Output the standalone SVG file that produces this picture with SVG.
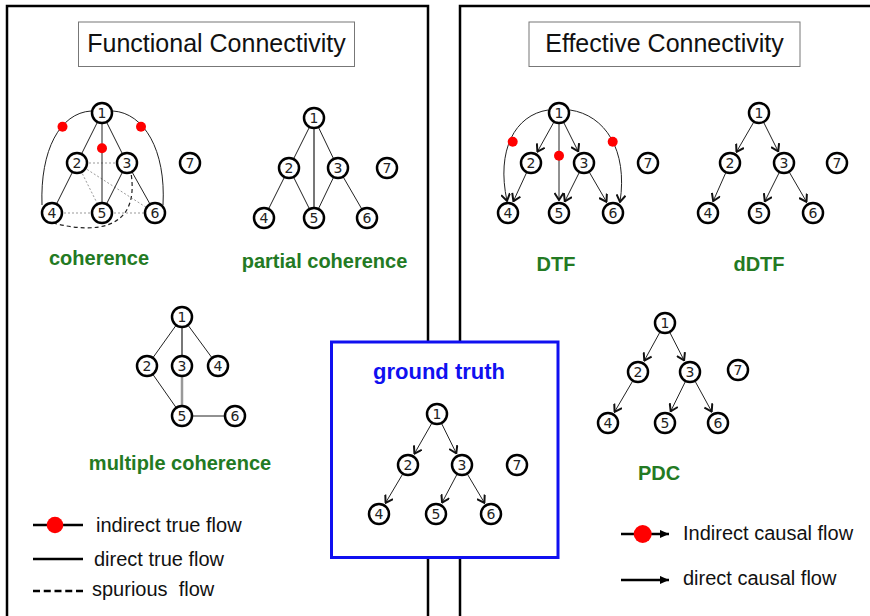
<svg xmlns="http://www.w3.org/2000/svg" width="870" height="616" viewBox="0 0 870 616">
  <defs>
    <style>
      .panel{fill:none;stroke:#000;stroke-width:2.5}
      .tbox{fill:#fff;stroke:#777;stroke-width:1}
      .ttl{font-family:"Liberation Sans",Arial,sans-serif;font-size:25px;text-anchor:middle;fill:#111}
      .node circle{fill:#fff;stroke:#000;stroke-width:2.5}
      .node text{font-family:"DejaVu Sans",Verdana,sans-serif;font-size:14px;text-anchor:middle;fill:#222}
      .e{stroke:#222;stroke-width:1;fill:none}
      .eg{stroke:#777;stroke-width:2;fill:none}
      .eg2{stroke:#999;stroke-width:2.5;fill:none}
      .dot{stroke:#999;stroke-width:1;stroke-dasharray:2 2;fill:none}
      .dash{stroke:#222;stroke-width:1.2;stroke-dasharray:4 3;fill:none}
      .arr{stroke:#222;stroke-width:1;fill:none;marker-end:url(#chev)}
      .red{fill:#f00}
      .lbl{font-family:"Liberation Sans",Arial,sans-serif;font-weight:bold;font-size:20px;fill:#237a23;text-anchor:middle}
      .leg{font-family:"Liberation Sans",Arial,sans-serif;font-size:20px;fill:#111}
      .legline{stroke:#000;stroke-width:2.5;fill:none}
    </style>
    <marker id="chev" viewBox="0 0 10 10" markerUnits="userSpaceOnUse" markerWidth="10" markerHeight="10" refX="9" refY="5" orient="auto">
      <path d="M2,0.5 L9,5 L2,9.5" fill="none" stroke="#111" stroke-width="2"/>
    </marker>
    <marker id="tri" viewBox="0 0 10 10" markerUnits="userSpaceOnUse" markerWidth="10" markerHeight="9" refX="10" refY="5" orient="auto">
      <path d="M0,0.5 L10,5 L0,9.5 Z" fill="#000"/>
    </marker>
  </defs>

  <rect width="870" height="616" fill="#fff"/>

  <!-- panels -->
  <g id="panels">
    <path class="panel" d="M7,625 V6 H428 V625"/>
    <path class="panel" d="M460,625 V6 H880"/>
    <rect class="tbox" x="78.5" y="22" width="276" height="44.5"/>
    <text class="ttl" x="216.5" y="52">Functional Connectivity</text>
    <rect class="tbox" x="529" y="22" width="271" height="44.5"/>
    <text class="ttl" x="664.5" y="52">Effective Connectivity</text>
    <rect x="331.5" y="342" width="226.5" height="215.5" fill="#fff" stroke="#1010f0" stroke-width="3"/>
  </g>

  <!-- connectors -->
  <g id="connectors">
    <!-- coherence -->
    <line class="dot" x1="77" y1="163" x2="127" y2="163"/>
    <line class="dot" x1="77" y1="163" x2="102" y2="213"/>
    <line class="dot" x1="77" y1="163" x2="155" y2="213"/>
    <line class="dot" x1="52" y1="213" x2="102" y2="213"/>
    <line class="dot" x1="102" y1="213" x2="155" y2="213"/>
    <path class="dash" d="M53,223 C95,234 140,230 131,173"/>
    <line class="e" x1="102" y1="113" x2="77" y2="163"/>
    <line class="e" x1="102" y1="113" x2="127" y2="163"/>
    <line class="e" x1="102" y1="113" x2="102" y2="213"/>
    <line class="e" x1="77" y1="163" x2="52" y2="213"/>
    <line class="e" x1="127" y1="163" x2="102" y2="213"/>
    <line class="e" x1="127" y1="163" x2="155" y2="213"/>
    <path class="e" d="M91,111 C60,113 40,150 42,205"/>
    <path class="e" d="M113,111 C144,113 166,150 163,205"/>
    <circle class="red" cx="62.5" cy="126.7" r="5"/>
    <circle class="red" cx="141" cy="126.7" r="5"/>
    <circle class="red" cx="102" cy="148.3" r="5"/>

    <!-- partial coherence -->
    <line class="e" x1="314" y1="118" x2="289" y2="168"/>
    <line class="e" x1="314" y1="118" x2="338" y2="168"/>
    <line class="eg" x1="314" y1="118" x2="314" y2="218"/>
    <line class="e" x1="289" y1="168" x2="264" y2="218"/>
    <line class="e" x1="289" y1="168" x2="314" y2="218" stroke-width="0.8"/>
    <line class="e" x1="338" y1="168" x2="314" y2="218"/>
    <line class="e" x1="338" y1="168" x2="367" y2="218"/>

    <!-- multiple coherence -->
    <line class="e" x1="182" y1="317" x2="147" y2="366"/>
    <line class="eg" x1="182" y1="317" x2="182" y2="366"/>
    <line class="e" x1="182" y1="317" x2="218" y2="366"/>
    <line class="e" x1="147" y1="366" x2="182" y2="416"/>
    <line class="eg2" x1="182" y1="366" x2="182" y2="416"/>
    <line class="e" x1="182" y1="416" x2="235" y2="416"/>

    <!-- DTF -->
    <line class="arr" x1="553.6" y1="122.6" x2="537.4" y2="151.7"/>
    <line class="arr" x1="563.9" y1="122.8" x2="578.2" y2="151.4"/>
    <line class="arr" x1="559" y1="124" x2="559" y2="200"/>
    <line class="arr" x1="526.4" y1="173" x2="513.4" y2="201.2"/>
    <line class="arr" x1="579.1" y1="172.8" x2="564.8" y2="201.4"/>
    <line class="arr" x1="589.5" y1="172.5" x2="606.5" y2="201.8"/>
    <path class="arr" d="M548,110 C515,115 496,150 507,201"/>
    <path class="arr" d="M570,110 C605,115 628,150 620,202"/>
    <circle class="red" cx="512.7" cy="141.7" r="5"/>
    <circle class="red" cx="612.7" cy="141.7" r="5"/>
    <circle class="red" cx="559" cy="155.7" r="5"/>

    <!-- dDTF -->
    <line class="arr" x1="753.5" y1="122.5" x2="736.5" y2="151.8"/>
    <line class="arr" x1="763.9" y1="122.8" x2="778.2" y2="151.4"/>
    <line class="arr" x1="725.6" y1="173.1" x2="713.2" y2="201.1"/>
    <line class="arr" x1="779.1" y1="172.8" x2="764.8" y2="201.4"/>
    <line class="arr" x1="789.5" y1="172.5" x2="806.5" y2="201.8"/>

    <!-- ground truth -->
    <line class="arr" x1="431.6" y1="423.6" x2="414.4" y2="453.7"/>
    <line class="arr" x1="441.8" y1="423.9" x2="456.3" y2="453.3"/>
    <line class="arr" x1="402.4" y1="474.5" x2="385.6" y2="502.8"/>
    <line class="arr" x1="456.8" y1="474.7" x2="442.1" y2="502.5"/>
    <line class="arr" x1="467.6" y1="474.5" x2="484.4" y2="502.8"/>

    <!-- PDC -->
    <line class="arr" x1="659.7" y1="332.6" x2="644.3" y2="360.6"/>
    <line class="arr" x1="670" y1="332.8" x2="684.1" y2="360.4"/>
    <line class="arr" x1="632.4" y1="381.5" x2="614.6" y2="411.8"/>
    <line class="arr" x1="685.2" y1="381.9" x2="670.7" y2="411.3"/>
    <line class="arr" x1="695.3" y1="381.6" x2="711.7" y2="411.6"/>
  </g>

  <!-- coherence nodes -->
  <g id="coh-1" class="node"><circle cx="102" cy="113" r="10"/><text x="102" y="118">1</text></g>
  <g id="coh-2" class="node"><circle cx="77" cy="163" r="10"/><text x="77" y="168">2</text></g>
  <g id="coh-3" class="node"><circle cx="127" cy="163" r="10"/><text x="127" y="168">3</text></g>
  <g id="coh-4" class="node"><circle cx="52" cy="213" r="10"/><text x="52" y="218">4</text></g>
  <g id="coh-5" class="node"><circle cx="102" cy="213" r="10"/><text x="102" y="218">5</text></g>
  <g id="coh-6" class="node"><circle cx="155" cy="213" r="10"/><text x="155" y="218">6</text></g>
  <g id="coh-7" class="node"><circle cx="190" cy="163" r="10"/><text x="190" y="168">7</text></g>
  <text class="lbl" x="99" y="265">coherence</text>

  <!-- partial coherence nodes -->
  <g id="pc-1" class="node"><circle cx="314" cy="118" r="10"/><text x="314" y="123">1</text></g>
  <g id="pc-2" class="node"><circle cx="289" cy="168" r="10"/><text x="289" y="173">2</text></g>
  <g id="pc-3" class="node"><circle cx="338" cy="168" r="10"/><text x="338" y="173">3</text></g>
  <g id="pc-4" class="node"><circle cx="264" cy="218" r="10"/><text x="264" y="223">4</text></g>
  <g id="pc-5" class="node"><circle cx="314" cy="218" r="10"/><text x="314" y="223">5</text></g>
  <g id="pc-6" class="node"><circle cx="367" cy="218" r="10"/><text x="367" y="223">6</text></g>
  <g id="pc-7" class="node"><circle cx="387" cy="168" r="10"/><text x="387" y="173">7</text></g>
  <text class="lbl" x="324.5" y="268">partial coherence</text>

  <!-- multiple coherence nodes -->
  <g id="mc-1" class="node"><circle cx="182" cy="317" r="10"/><text x="182" y="322">1</text></g>
  <g id="mc-2" class="node"><circle cx="147" cy="366" r="10"/><text x="147" y="371">2</text></g>
  <g id="mc-3" class="node"><circle cx="182" cy="366" r="10"/><text x="182" y="371">3</text></g>
  <g id="mc-4" class="node"><circle cx="218" cy="366" r="10"/><text x="218" y="371">4</text></g>
  <g id="mc-5" class="node"><circle cx="182" cy="416" r="10"/><text x="182" y="421">5</text></g>
  <g id="mc-6" class="node"><circle cx="235" cy="416" r="10"/><text x="235" y="421">6</text></g>
  <text class="lbl" x="180" y="470">multiple coherence</text>

  <!-- DTF nodes -->
  <g id="dtf-1" class="node"><circle cx="559" cy="113" r="10"/><text x="559" y="118">1</text></g>
  <g id="dtf-2" class="node"><circle cx="531" cy="163" r="10"/><text x="531" y="168">2</text></g>
  <g id="dtf-3" class="node"><circle cx="584" cy="163" r="10"/><text x="584" y="168">3</text></g>
  <g id="dtf-4" class="node"><circle cx="508" cy="213" r="10"/><text x="508" y="218">4</text></g>
  <g id="dtf-5" class="node"><circle cx="559" cy="213" r="10"/><text x="559" y="218">5</text></g>
  <g id="dtf-6" class="node"><circle cx="613" cy="213" r="10"/><text x="613" y="218">6</text></g>
  <g id="dtf-7" class="node"><circle cx="648" cy="163" r="10"/><text x="648" y="168">7</text></g>
  <text class="lbl" x="556" y="271">DTF</text>

  <!-- dDTF nodes -->
  <g id="ddtf-1" class="node"><circle cx="759" cy="113" r="10"/><text x="759" y="118">1</text></g>
  <g id="ddtf-2" class="node"><circle cx="730" cy="163" r="10"/><text x="730" y="168">2</text></g>
  <g id="ddtf-3" class="node"><circle cx="784" cy="163" r="10"/><text x="784" y="168">3</text></g>
  <g id="ddtf-4" class="node"><circle cx="708" cy="213" r="10"/><text x="708" y="218">4</text></g>
  <g id="ddtf-5" class="node"><circle cx="759" cy="213" r="10"/><text x="759" y="218">5</text></g>
  <g id="ddtf-6" class="node"><circle cx="813" cy="213" r="10"/><text x="813" y="218">6</text></g>
  <g id="ddtf-7" class="node"><circle cx="837" cy="163" r="10"/><text x="837" y="168">7</text></g>
  <text class="lbl" x="759" y="271">dDTF</text>

  <!-- ground truth nodes -->
  <text x="439" y="379" font-family="Liberation Sans, Arial, sans-serif" font-weight="bold" font-size="22" fill="#1010f0" text-anchor="middle">ground truth</text>
  <g id="gt-1" class="node"><circle cx="437" cy="414" r="10"/><text x="437" y="419">1</text></g>
  <g id="gt-2" class="node"><circle cx="408" cy="465" r="10"/><text x="408" y="470">2</text></g>
  <g id="gt-3" class="node"><circle cx="462" cy="465" r="10"/><text x="462" y="470">3</text></g>
  <g id="gt-4" class="node"><circle cx="379" cy="514" r="10"/><text x="379" y="519">4</text></g>
  <g id="gt-5" class="node"><circle cx="436" cy="514" r="10"/><text x="436" y="519">5</text></g>
  <g id="gt-6" class="node"><circle cx="491" cy="514" r="10"/><text x="491" y="519">6</text></g>
  <g id="gt-7" class="node"><circle cx="517" cy="465" r="10"/><text x="517" y="470">7</text></g>

  <!-- PDC nodes -->
  <g id="pdc-1" class="node"><circle cx="665" cy="323" r="10"/><text x="665" y="328">1</text></g>
  <g id="pdc-2" class="node"><circle cx="638" cy="372" r="10"/><text x="638" y="377">2</text></g>
  <g id="pdc-3" class="node"><circle cx="690" cy="372" r="10"/><text x="690" y="377">3</text></g>
  <g id="pdc-4" class="node"><circle cx="608" cy="423" r="10"/><text x="608" y="428">4</text></g>
  <g id="pdc-5" class="node"><circle cx="665" cy="423" r="10"/><text x="665" y="428">5</text></g>
  <g id="pdc-6" class="node"><circle cx="718" cy="423" r="10"/><text x="718" y="428">6</text></g>
  <g id="pdc-7" class="node"><circle cx="738" cy="370" r="10"/><text x="738" y="375">7</text></g>
  <text class="lbl" x="659" y="480">PDC</text>

  <!-- legends -->
  <g id="legend-functional">
    <line class="legline" x1="33" y1="525" x2="83" y2="525"/>
    <circle class="red" cx="55" cy="525" r="8.3"/>
    <text class="leg" x="96" y="532">indirect true flow</text>
    <line class="legline" x1="33" y1="559" x2="83" y2="559"/>
    <text class="leg" x="94" y="566">direct true flow</text>
    <line class="legline" x1="33" y1="591" x2="83" y2="591" stroke-dasharray="7 3.75"/>
    <text class="leg" x="92" y="596" xml:space="preserve">spurious  flow</text>
  </g>
  <g id="legend-effective">
    <line class="legline" x1="621" y1="534" x2="669" y2="534" marker-end="url(#tri)"/>
    <circle class="red" cx="642.7" cy="534" r="9"/>
    <text class="leg" x="683" y="539.5">Indirect causal flow</text>
    <line class="legline" x1="621" y1="580" x2="669" y2="580" marker-end="url(#tri)"/>
    <text class="leg" x="683" y="585">direct causal flow</text>
  </g>
</svg>
